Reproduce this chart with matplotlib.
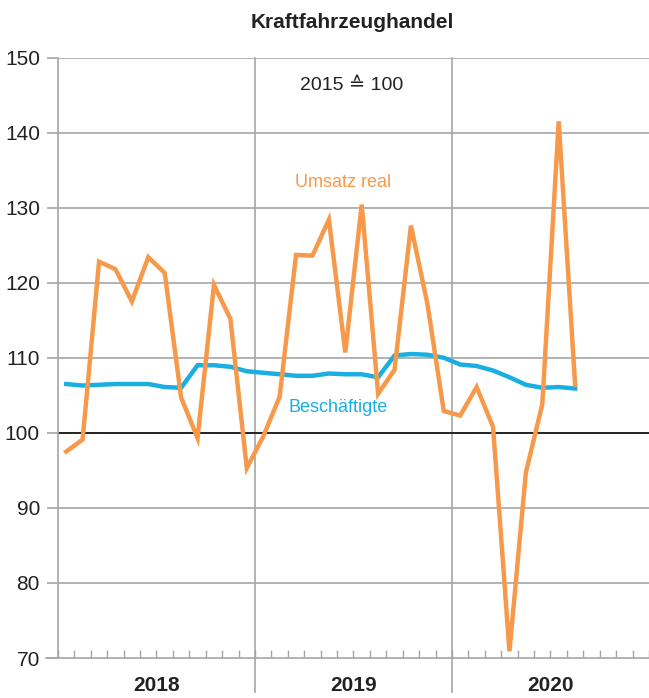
import numpy as np
import matplotlib.pyplot as plt

plt.rcParams['font.family'] = ['Liberation Sans', 'DejaVu Sans']

# monthly values, Jan 2018 .. Aug 2020 (2015 = 100)
umsatz_real = [97.5, 99.1, 122.8, 121.8, 117.5, 123.4, 121.3, 104.7, 99.3, 119.7, 115.2, 95.3,
               99.5, 104.8, 123.7, 123.6, 128.4, 110.7, 130.4, 105.2, 108.4, 127.6, 117.2, 102.9,
               102.3, 106.1, 100.8, 70.9, 94.7, 103.8, 141.5, 106.4]
beschaeftigte = [106.5, 106.3, 106.4, 106.5, 106.5, 106.5, 106.1, 106.0, 109.0, 109.0, 108.8, 108.2,
                 108.0, 107.8, 107.6, 107.6, 107.9, 107.8, 107.8, 107.4, 110.3, 110.5, 110.4, 110.0,
                 109.1, 108.9, 108.3, 107.4, 106.4, 106.0, 106.1, 105.9]
years = ['2018', '2019', '2020']

orange = '#F7994A'
blue = '#1AAFE0'
grey = '#A6A6A6'

x = np.arange(len(umsatz_real)) + 0.5

fig = plt.figure(figsize=(6.49, 6.98), dpi=100)
ax = fig.add_axes([58 / 649, 1 - 658 / 698, 1 - 58 / 649, (658 - 57.5) / 698])

ax.set_xlim(0, 36)
ax.set_ylim(70, 150)

# grid
for v in range(80, 151, 10):
    if v == 100:
        continue
    ax.axhline(v, color=grey, lw=1.2, zorder=1)
ax.axhline(100, color='#222222', lw=1.4, zorder=2)
for xv in [12, 24]:
    ax.axvline(xv, ymin=-0.057, ymax=1, color=grey, lw=1.2, zorder=1, clip_on=False)

ax.plot(x, beschaeftigte, color=blue, lw=3.2, zorder=3, solid_joinstyle='miter')
ax.plot(x, umsatz_real, color=orange, lw=3.2, zorder=4, solid_joinstyle='miter')

# axes
for s in ['top', 'right', 'bottom']:
    ax.spines[s].set_visible(False)
ax.spines['left'].set_color(grey)
ax.spines['left'].set_linewidth(1.2)
ax.axhline(70, xmin=-12 / 591, xmax=1, color=grey, lw=1.2, clip_on=False, zorder=1)

ax.set_yticks(range(70, 151, 10))
ax.tick_params(axis='y', direction='out', length=8, width=1.2, color=grey,
               labelsize=15, pad=5, labelcolor='#222222')
ax.set_xticks(range(0, 37))
ax.set_xticklabels([])
ax.tick_params(axis='x', direction='in', length=6, width=1, color=grey, bottom=True)

for i, yr in enumerate(years):
    ax.text(6 + 12 * i, 66.3, yr, ha='center', va='center', fontsize=15,
            fontweight='bold', color='#222222')

fig.text(352 / 649, 1 - 22 / 698, 'Kraftfahrzeughandel', ha='center', va='center',
         fontsize=15, fontweight='bold', color='#222222')
ax.text(17.9, 146.3, '2015 \u2259 100', ha='center', va='center', fontsize=14, color='#222222')
ax.text(17.35, 133.3, 'Umsatz real', ha='center', va='center', fontsize=13, color=orange)
ax.text(17.05, 103.4, 'Beschäftigte', ha='center', va='center', fontsize=13, color=blue)

fig.savefig('out.png', dpi=100)
